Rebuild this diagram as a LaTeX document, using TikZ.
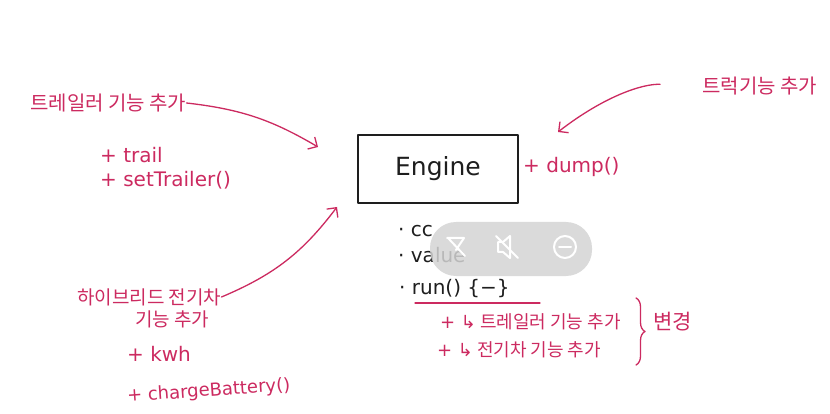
\documentclass[tikz,border=0pt]{standalone}
\usepackage{fontspec}
\setmainfont{Noto Sans CJK KR}
\newfontfamily\latinfont{DejaVu Sans}
\usetikzlibrary{arrows.meta,decorations.pathreplacing}
\definecolor{penpink}{RGB}{204,42,96}
\definecolor{penblack}{RGB}{30,30,30}
\definecolor{overlaygray}{RGB}{212,212,212}
\begin{document}
\begin{tikzpicture}[x=1pt, y=-1pt, line cap=round, line join=round,
  pentext/.style={text=penpink, font=\fontsize{19}{22}\selectfont, inner sep=0pt, anchor=west},
  penlatin/.style={pentext, font=\latinfont\fontsize{20}{24}\selectfont},
  blacklatin/.style={penlatin, text=penblack},
  penarrow/.style={draw=penpink, line width=1.3pt, -{Straight Barb[length=7pt,width=14pt]}},
  penline/.style={draw=penpink, line width=1.3pt}]
% page size of the screenshot
\useasboundingbox (0,0) rectangle (830,414);
\fill[white] (0,0) rectangle (830,414);
% Engine class box
\node[draw=penblack, line width=1.4pt, minimum width=160pt, minimum height=68pt,
  text=penblack, font=\latinfont\fontsize{25}{30}\selectfont] (engine) at (438,169) {Engine};
\node[penlatin] (dump) at (523,167) {+ dump()};
% Members below the box
\node[blacklatin] (cc) at (398,231) {· cc};
\node[blacklatin] (value) at (398,255) {· value};
\node[blacklatin] (run) at (399,289) {· run() \{−\}};
\draw[penline] (415,303) -- (540,303);
\node[pentext, font=\fontsize{18}{22}\selectfont] (changeone) at (440,322) {{\latinfont + ↳} 트레일러 기능 추가};
\node[pentext, font=\fontsize{18}{22}\selectfont] (changetwo) at (437,350) {{\latinfont + ↳} 전기차 기능 추가};
\coordinate (bracetop) at (636,298);
\coordinate (bracebot) at (636,365);
\draw[penline, decorate, decoration={brace, amplitude=9pt}] (bracetop) -- (bracebot);
\node[pentext, font=\fontsize{21}{24}\selectfont] (changelbl) at (653,322) {변경};
% Trailer feature
\node[pentext, font=\fontsize{20}{24}\selectfont] (trailerlbl) at (30,103) {트레일러 기능 추가};
\node[penlatin] (trail) at (100,155) {+ trail};
\node[penlatin] (settrailer) at (100,180) {+ setTrailer()};
\coordinate (trailertip) at (318,147);
\draw[penarrow] (trailerlbl.east) to[bend left=12] (trailertip);
% Truck feature
\node[pentext, font=\fontsize{20}{24}\selectfont] (trucklbl) at (702,86) {트럭기능 추가};
\coordinate (trucktip) at (558,132);
\draw[penarrow, shorten <=42pt] (trucklbl.west) to[bend right=20] (trucktip);
% Hybrid feature
\node[pentext] (hybridlbl) at (77,297) {하이브리드 전기차};
\node[pentext] (hybridlbltwo) at (135,319) {기능 추가};
\node[penlatin] (kwh) at (127,354) {+ kwh};
\node[penlatin, font=\latinfont\fontsize{18}{22}\selectfont, rotate=4] (chargebattery) at (127,397) {+ chargeBattery()};
\coordinate (hybridtip) at (337,207);
\draw[penarrow] (hybridlbl.east) to[bend right=15] (hybridtip);
% Video overlay of the screenshot
\fill[overlaygray, fill opacity=0.85, rounded corners=26pt] (430,222) rectangle (592,276);
\begin{scope}[draw=white, line width=2pt]
  \draw (448,238) -- (465,256) (447,238) -- (464,238) -- (456,250);
  \draw (498,242) -- (503,242) -- (510,236) -- (510,258) -- (503,252) -- (498,252) -- cycle;
  \draw (496,236) -- (518,258);
  \draw (565,247) circle (11pt);
  \draw (559,247) -- (571,247);
\end{scope}
\end{tikzpicture}
\end{document}
